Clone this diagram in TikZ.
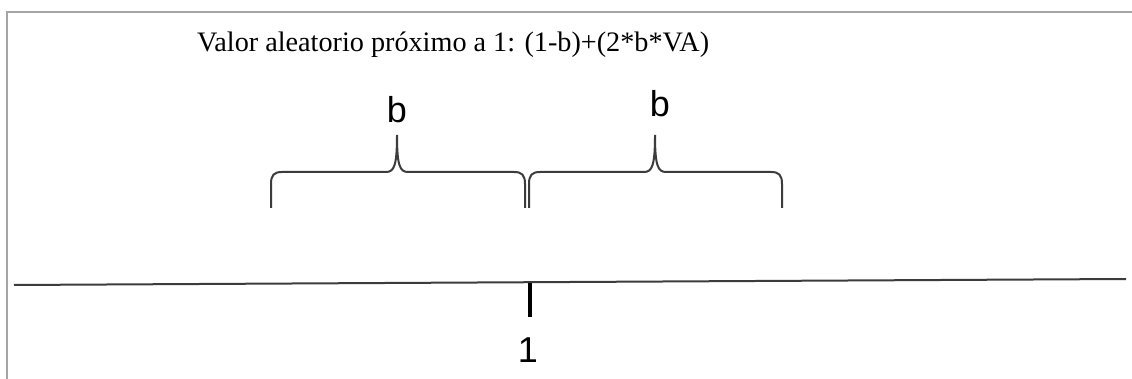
\documentclass[tikz,border=0pt]{standalone}
\usepackage{fontspec}
\setmainfont{Liberation Serif}
\newfontfamily\arialfont{Liberation Sans}
\usepackage{tikz}
\usetikzlibrary{positioning}
\definecolor{framegray}{RGB}{165,165,165}
\definecolor{linegray}{RGB}{60,60,60}
\tikzset{
  frameline/.style={draw=framegray,line width=2pt},
  axisline/.style={draw=linegray,line width=2pt},
  bracepath/.style={draw=linegray,line width=2pt},
  lbl/.style={font=\arialfont\fontsize{36}{38}\selectfont,inner sep=0pt},
}

\begin{document}
\begin{tikzpicture}[x=1pt,y=-1pt]
  \useasboundingbox (0,0) rectangle (1132,379);
  \fill[white] (0,0) rectangle (1132,379);
  % frame
  \draw[frameline] (7,379) -- (7,12) -- (1132,12);
  % title
  \node[anchor=base west,inner sep=0pt,font=\fontsize{28.2}{30}\selectfont] (title) at (197,52) {Valor aleatorio próximo a 1: (1-b)+(2*b*VA)};
  % braces
  \foreach \xa/\xt/\xb [count=\i] in {271/397/525, 529/655/782}{
    \draw[bracepath] (\xa,208) -- (\xa,184) .. controls (\xa,175) and (\xa+3,172) .. (\xa+11,172)
      -- (\xt-11,172) .. controls (\xt-3,172) and (\xt,166) .. (\xt,135)
      .. controls (\xt,166) and (\xt+3,172) .. (\xt+11,172)
      -- (\xb-11,172) .. controls (\xb-3,172) and (\xb,175) .. (\xb,184) -- (\xb,208);
  }
  \node[lbl,anchor=base] (bleft) at (397,123) {b};
  \node[lbl,anchor=base] (bright) at (660,117) {b};
  % axis
  \coordinate (axl) at (14,285);
  \coordinate (axr) at (1126,279);
  \draw[axisline] (axl) -- (axr);
  \coordinate (ticktop) at (530,283);
  \node[lbl,anchor=base] (one) at (528,362) {1};
  \draw[line width=3.5pt] (ticktop) -- (530,317);
\end{tikzpicture}
\end{document}
